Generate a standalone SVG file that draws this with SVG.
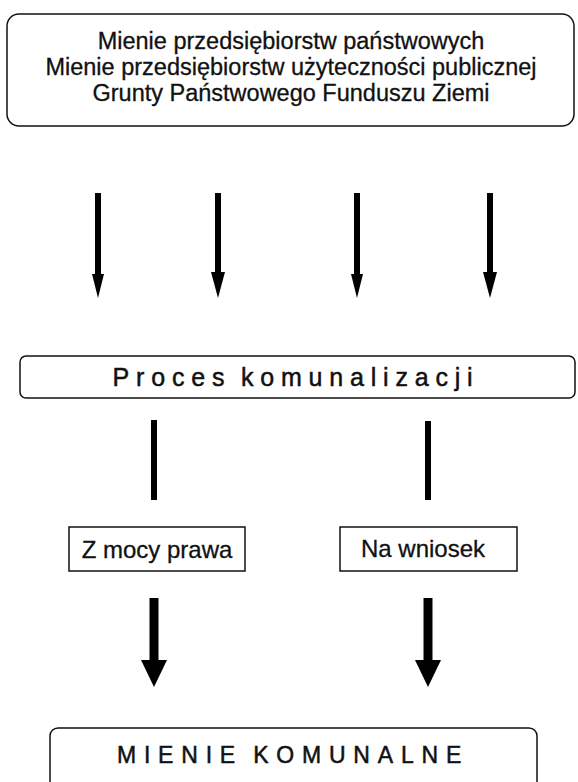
<svg xmlns="http://www.w3.org/2000/svg" width="578" height="782" viewBox="0 0 578 782">
<style>
.box{fill:#fff;stroke:#111;stroke-width:1.5}
.t{font-family:"Liberation Sans",Arial,sans-serif;fill:#111;stroke:#111;stroke-width:0.3;text-anchor:middle}
.top{font-size:23.5px}
.lbl{font-size:24px}
.sp{font-size:25px;letter-spacing:6.8px;word-spacing:-4px;stroke-width:0.5}
.sp2{font-size:23px;letter-spacing:7.8px;word-spacing:-4px;stroke-width:0.5}
.shaft{stroke:#000;stroke-width:6;fill:none}
.shaft2{stroke:#000;stroke-width:9;fill:none}
.head{fill:#000}
</style>
<rect width="578" height="782" fill="#fff"/>
<g id="source">
<rect class="box" x="7" y="14" width="567" height="112" rx="12"/>
<text class="t top" x="291" y="49">Mienie przedsiębiorstw państwowych</text>
<text class="t top" x="291" y="75">Mienie przedsiębiorstw użyteczności publicznej</text>
<text class="t top" x="291" y="101">Grunty Państwowego Funduszu Ziemi</text>
</g>
<g id="connectors">
<line class="shaft" x1="98" y1="193" x2="98" y2="276"/><polygon class="head" points="92,274 104,274 98,298"/>
<line class="shaft" x1="218" y1="193" x2="218" y2="276"/><polygon class="head" points="211,272 225,272 218,298"/>
<line class="shaft" x1="357" y1="193" x2="357" y2="276"/><polygon class="head" points="351,274 363,274 357,298"/>
<line class="shaft" x1="490" y1="193" x2="490" y2="276"/><polygon class="head" points="483,272 497,272 490,298"/>
<line class="shaft" x1="154" y1="420" x2="154" y2="500"/>
<line class="shaft" x1="428" y1="421" x2="428" y2="500"/>
<line class="shaft2" x1="154" y1="598" x2="154" y2="662"/><polygon class="head" points="141,660 167,660 154,687"/>
<line class="shaft2" x1="428" y1="598" x2="428" y2="662"/><polygon class="head" points="415,660 441,660 428,687"/>
</g>
<g id="proces">
<rect class="box" x="20" y="356" width="555" height="42" rx="6"/>
<text class="t sp" x="296" y="386">Proces komunalizacji</text>
</g>
<g id="zmocy">
<rect class="box" x="69" y="527" width="176" height="44"/>
<text class="t lbl" x="157" y="558">Z mocy prawa</text>
</g>
<g id="nawniosek">
<rect class="box" x="340" y="527" width="177" height="44"/>
<text class="t lbl" x="423" y="557">Na wniosek</text>
</g>
<g id="mienie">
<rect class="box" x="50" y="728" width="487" height="80" rx="8"/>
<text class="t sp2" x="293" y="763">MIENIE KOMUNALNE</text>
</g>
</svg>
